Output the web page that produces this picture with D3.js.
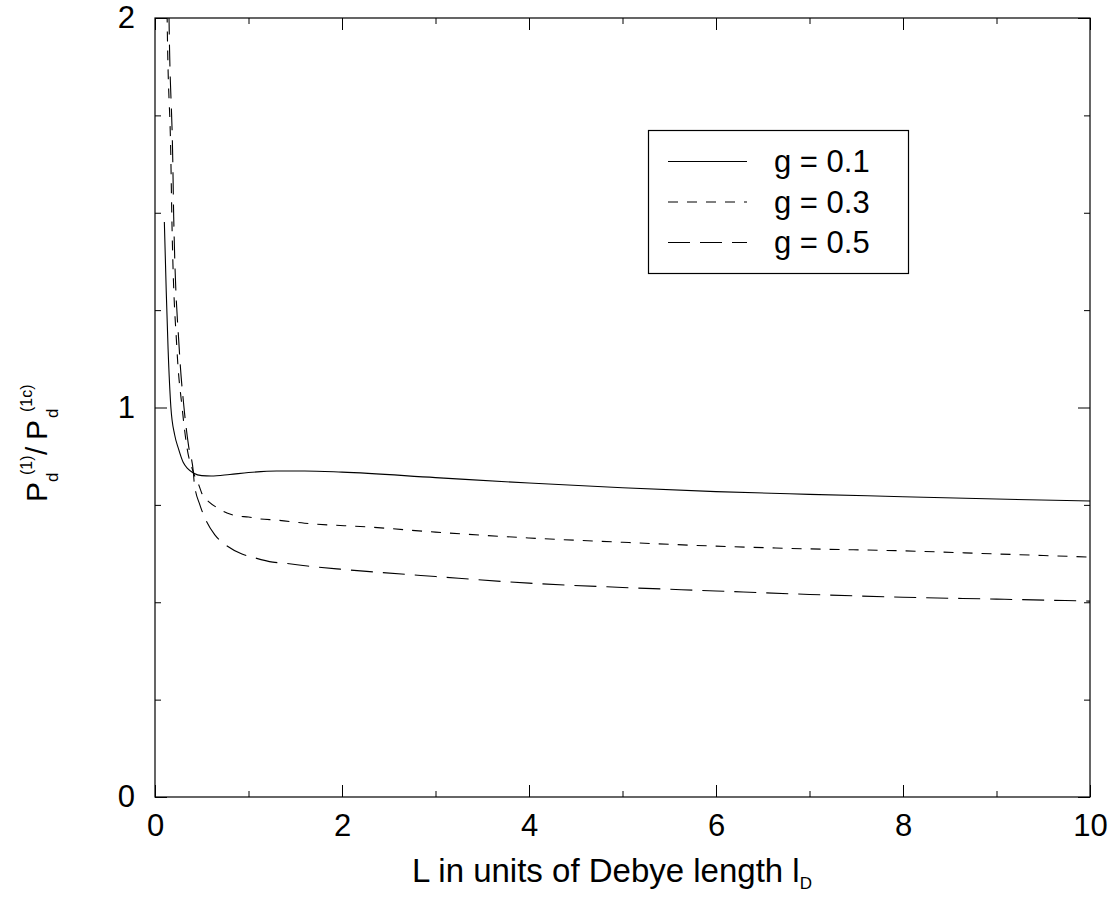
<!DOCTYPE html>
<html><head><meta charset="utf-8">
<script src="https://cdn.jsdelivr.net/npm/d3@7"></script>
<style>
body{margin:0;background:#fff;}
text{font-family:"Liberation Sans",Arial,Helvetica,sans-serif;fill:#000;}
</style>
</head><body>
<svg id="chart" width="1118" height="899"></svg>
<script>
// ---- data ----
const seriesLabels = ["g = 0.1", "g = 0.3", "g = 0.5"];
const L_g01 = [0.1, 0.12, 0.14, 0.17, 0.21, 0.25, 0.3, 0.35, 0.41, 0.5, 0.6, 0.8, 1.0, 1.3, 1.6, 2, 3, 4, 5, 6, 7, 8, 9, 10];
const P_g01 = [1.476, 1.30, 1.15, 1.0, 0.93, 0.895, 0.86, 0.843, 0.832, 0.825, 0.824, 0.828, 0.833, 0.837, 0.837, 0.834, 0.820, 0.806, 0.794, 0.784, 0.777, 0.771, 0.765, 0.760];
const L_g03 = [0.11, 0.13, 0.17, 0.18, 0.235, 0.29, 0.34, 0.41, 0.47, 0.5, 0.58, 0.67, 0.77, 0.89, 1.0, 1.12, 1.3, 1.6, 2.3, 3, 4, 5, 6, 7, 8, 9, 10];
const P_g03 = [2.6, 2.0, 1.635, 1.49, 1.148, 1.0, 0.9, 0.834, 0.80, 0.78, 0.757, 0.742, 0.729, 0.721, 0.719, 0.714, 0.711, 0.703, 0.693, 0.680, 0.665, 0.654, 0.644, 0.637, 0.632, 0.624, 0.616];
const L_g05 = [0.11, 0.15, 0.19, 0.2, 0.26, 0.31, 0.36, 0.41, 0.42, 0.48, 0.52, 0.64, 0.73, 0.93, 1.04, 1.26, 1.39, 1.63, 1.98, 2.33, 3, 4, 5, 6, 7, 8, 9, 10];
const P_g05 = [3.0, 2.0, 1.635, 1.49, 1.148, 1.0, 0.9, 0.834, 0.806, 0.75, 0.724, 0.673, 0.652, 0.624, 0.616, 0.603, 0.600, 0.593, 0.585, 0.578, 0.566, 0.549, 0.538, 0.529, 0.520, 0.513, 0.508, 0.503];
const xMajorTicks = [0, 2, 4, 6, 8, 10];
const xMinorTicks = [1, 3, 5, 7, 9];
const yMajorTicks = [0, 1, 2];
const yMinorTicks = [0.25, 0.5, 0.75, 1.25, 1.5, 1.75];

// ---- layout ----
const mLeft = 155, mRight = 1090, mTop = 18, mBottom = 797;
const svg = d3.select("#chart");
const x = d3.scaleLinear().domain([0, 10]).range([mLeft, mRight]);
const y = d3.scaleLinear().domain([0, 2]).range([mBottom, mTop]);

svg.append("rect").attr("width", 1118).attr("height", 899).attr("fill", "#fff");

svg.append("defs").append("clipPath").attr("id", "clip")
  .append("rect").attr("x", mLeft).attr("y", mTop).attr("width", mRight - mLeft).attr("height", mBottom - mTop);

const series = [
  {L: L_g01, P: P_g01, dash: null},
  {L: L_g03, P: P_g03, dash: "10,9"},
  {L: L_g05, P: P_g05, dash: "22,10"}
];

const line = d3.line().x(d => x(d[0])).y(d => y(d[1])).curve(d3.curveMonotoneX);
const plot = svg.append("g").attr("clip-path", "url(#clip)");
series.forEach(s => {
  plot.append("path")
    .datum(s.L.map((l, i) => [l, s.P[i]]))
    .attr("d", line)
    .attr("fill", "none")
    .attr("stroke", "#000")
    .attr("stroke-width", 1.1)
    .attr("stroke-dasharray", s.dash);
});

// ---- axes (ticks point inward on all four sides) ----
const fs = 31;
function styleAxis(g) {
  g.select(".domain").remove();
  g.selectAll("line").attr("stroke", "#000").attr("stroke-width", 1);
  g.selectAll("text").style("font-size", fs + "px").attr("fill", "#000");
}
svg.append("g").attr("transform", `translate(0,${mBottom})`)
  .call(d3.axisBottom(x).tickValues(xMajorTicks).tickSize(-12).tickPadding(17).tickFormat(d3.format("d")))
  .call(styleAxis);
svg.append("g").attr("transform", `translate(0,${mBottom})`)
  .call(d3.axisBottom(x).tickValues(xMinorTicks).tickSize(-6).tickFormat(""))
  .call(styleAxis);
svg.append("g").attr("transform", `translate(0,${mTop})`)
  .call(d3.axisTop(x).tickValues(xMajorTicks).tickSize(-12).tickFormat(""))
  .call(styleAxis);
svg.append("g").attr("transform", `translate(0,${mTop})`)
  .call(d3.axisTop(x).tickValues(xMinorTicks).tickSize(-6).tickFormat(""))
  .call(styleAxis);
svg.append("g").attr("transform", `translate(${mLeft},0)`)
  .call(d3.axisLeft(y).tickValues(yMajorTicks).tickSize(-12).tickPadding(20).tickFormat(d3.format("d")))
  .call(styleAxis);
svg.append("g").attr("transform", `translate(${mLeft},0)`)
  .call(d3.axisLeft(y).tickValues(yMinorTicks).tickSize(-6).tickFormat(""))
  .call(styleAxis);
svg.append("g").attr("transform", `translate(${mRight},0)`)
  .call(d3.axisRight(y).tickValues(yMajorTicks).tickSize(-12).tickFormat(""))
  .call(styleAxis);
svg.append("g").attr("transform", `translate(${mRight},0)`)
  .call(d3.axisRight(y).tickValues(yMinorTicks).tickSize(-6).tickFormat(""))
  .call(styleAxis);

// frame
svg.append("rect").attr("x", mLeft).attr("y", mTop)
  .attr("width", mRight - mLeft).attr("height", mBottom - mTop)
  .attr("fill", "none").attr("stroke", "#000").attr("stroke-width", 1.2);

// ---- axis titles ----
const xt = svg.append("text").attr("x", 412).attr("y", 882).style("font-size", "33px");
xt.append("tspan").text("L in units of Debye length l");
xt.append("tspan").attr("dy", 7).style("font-size", "17px").text("D");

const yl = svg.append("g").attr("transform", "translate(47,502) rotate(-90)");
const yParts = [
  {t: "P", u: 0, v: 0, s: 30},
  {t: "d", u: 20, v: 11, s: 17},
  {t: "(1)", u: 27, v: -15, s: 16},
  {t: "/", u: 47, v: 0, s: 30},
  {t: "P", u: 62, v: 0, s: 30},
  {t: "d", u: 84, v: 11, s: 17},
  {t: "(1c)", u: 90, v: -15, s: 16}
];
yParts.forEach(p => {
  yl.append("text").attr("x", p.u).attr("y", p.v).style("font-size", p.s + "px").text(p.t);
});

// ---- legend ----
const lg = svg.append("g");
lg.append("rect").attr("x", 648.5).attr("y", 130.5).attr("width", 260).attr("height", 143)
  .attr("fill", "#fff").attr("stroke", "#000").attr("stroke-width", 1.2);
seriesLabels.forEach((lab, i) => {
  const base = 172 + i * 40.5;
  lg.append("line").attr("x1", 668).attr("x2", 747)
    .attr("y1", base - 10.5).attr("y2", base - 10.5)
    .attr("stroke", "#000").attr("stroke-width", 1.1)
    .attr("stroke-dasharray", series[i].dash);
  lg.append("text").attr("x", 774).attr("y", base).style("font-size", fs + "px").text(lab);
});
</script>
</body></html>
